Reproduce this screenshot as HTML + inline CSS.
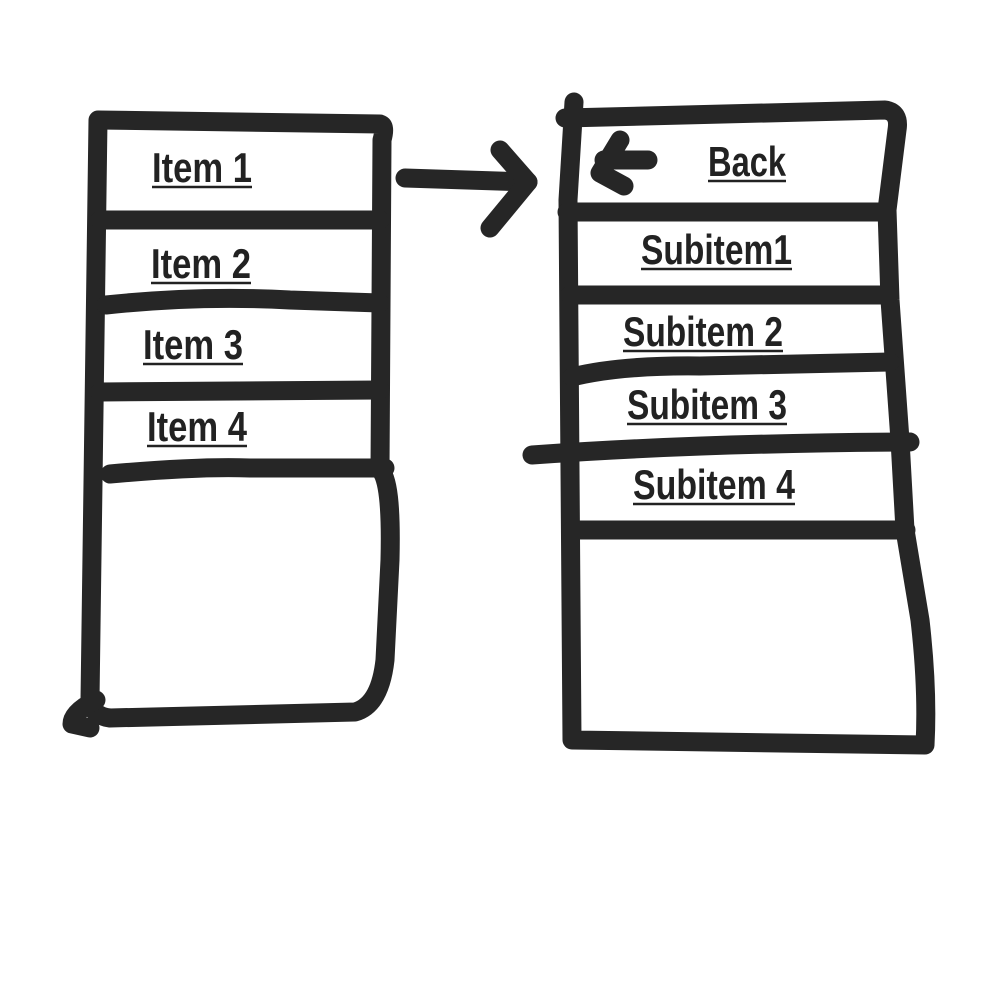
<!DOCTYPE html>
<html><head><meta charset="utf-8"><style>
html,body{margin:0;padding:0;background:#fff;}
svg{display:block}
text{font-family:"Liberation Sans Narrow","Liberation Sans",sans-serif;font-weight:bold;font-size:42px;fill:#222;}
</style></head><body>
<svg width="1000" height="1000" viewBox="0 0 1000 1000" xmlns="http://www.w3.org/2000/svg">
<g fill="none" stroke="#262626" stroke-width="19" stroke-linecap="round" stroke-linejoin="round">
<path d="M98 120 L380 124 Q386 126 382 140 L380 470 Q392 480 390 560 L385 660 Q380 705 355 712 L110 718 Q92 716 90 700 L98 120"/>
<path d="M96 700 Q72 712 72 724 L90 728"/>
<path d="M100 220 L380 220"/>
<path d="M106 305 Q200 295 290 300 L380 303"/>
<path d="M100 392 L380 390"/>
<path d="M110 474 Q200 466 250 468 L385 468"/>
<path d="M405 178 L528 182"/>
<path d="M500 150 L528 182 L490 228"/>
<path d="M574 102 L568 200 L572 740 L925 745 Q928 690 920 620 L905 530 L900 440 L890 300 L887 210 L897 130 Q900 112 885 110 L565 118"/>
<path d="M567 212 L885 212"/>
<path d="M570 295 L888 295"/>
<path d="M572 377 Q620 365 700 366 L890 362"/>
<path d="M532 455 Q700 443 910 442"/>
<path d="M572 530 L906 530"/>
<path d="M620 140 L600 173 L624 186"/>
<path d="M604 160 L648 160"/>
</g>
<g>
<text x="152" y="182" textLength="100" lengthAdjust="spacingAndGlyphs">Item 1</text>
<text x="151" y="278" textLength="100" lengthAdjust="spacingAndGlyphs">Item 2</text>
<text x="143" y="359" textLength="100" lengthAdjust="spacingAndGlyphs">Item 3</text>
<text x="147" y="441" textLength="100" lengthAdjust="spacingAndGlyphs">Item 4</text>
<text x="708" y="176" textLength="78" lengthAdjust="spacingAndGlyphs">Back</text>
<text x="641" y="264" textLength="151" lengthAdjust="spacingAndGlyphs">Subitem1</text>
<text x="623" y="346" textLength="160" lengthAdjust="spacingAndGlyphs">Subitem 2</text>
<text x="627" y="419" textLength="160" lengthAdjust="spacingAndGlyphs">Subitem 3</text>
<text x="633" y="499" textLength="162" lengthAdjust="spacingAndGlyphs">Subitem 4</text>
</g>
<g stroke="#222" stroke-width="2.5">
<line x1="152" y1="187" x2="252" y2="187"/>
<line x1="151" y1="283" x2="251" y2="283"/>
<line x1="143" y1="364" x2="243" y2="364"/>
<line x1="147" y1="446" x2="247" y2="446"/>
<line x1="708" y1="181" x2="786" y2="181"/>
<line x1="641" y1="269" x2="792" y2="269"/>
<line x1="623" y1="351" x2="783" y2="351"/>
<line x1="627" y1="424" x2="787" y2="424"/>
<line x1="633" y1="504" x2="795" y2="504"/>
</g>
</svg>
</body></html>
